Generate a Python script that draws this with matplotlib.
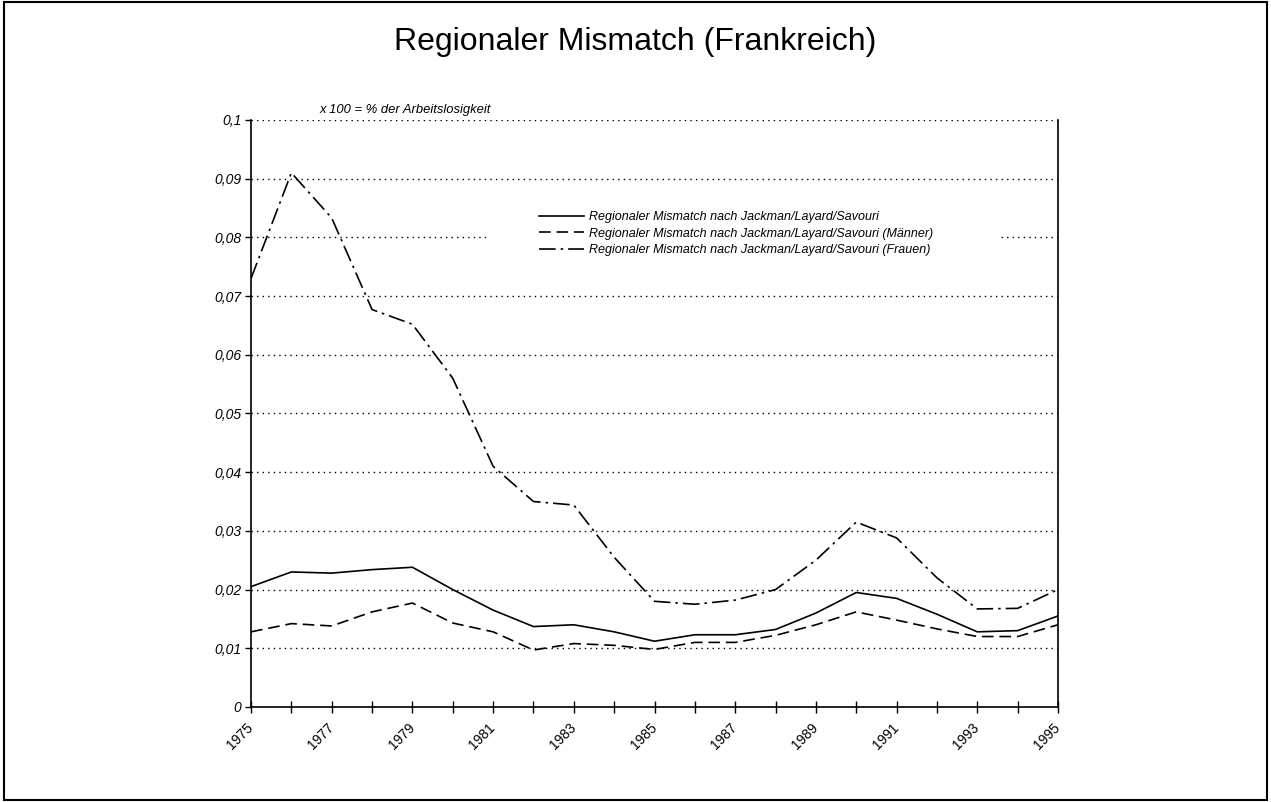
import matplotlib.pyplot as plt
from matplotlib.patches import Rectangle
from matplotlib.ticker import FuncFormatter, MultipleLocator
from matplotlib.transforms import ScaledTranslation

plt.rcParams['font.family'] = ['Liberation Sans', 'DejaVu Sans']

years = list(range(1975, 1996))

# Regionaler Mismatch, gesamt / Maenner / Frauen
total = [0.0205, 0.0230, 0.0228, 0.0234, 0.0238, 0.0200, 0.0165, 0.0137, 0.0140, 0.0128,
         0.0112, 0.0123, 0.0123, 0.0132, 0.0160, 0.0195, 0.0185, 0.0158, 0.0128, 0.0130, 0.0155]
men = [0.0128, 0.0142, 0.0138, 0.0162, 0.0177, 0.0143, 0.0128, 0.0097, 0.0108, 0.0105,
       0.0098, 0.0110, 0.0110, 0.0122, 0.0140, 0.0162, 0.0148, 0.0133, 0.0120, 0.0120, 0.0140]
women = [0.0730, 0.0910, 0.0833, 0.0677, 0.0652, 0.0560, 0.0410, 0.0350, 0.0344, 0.0255,
         0.0180, 0.0175, 0.0182, 0.0200, 0.0250, 0.0315, 0.0288, 0.0220, 0.0167, 0.0168, 0.0200]

labels = ["Regionaler Mismatch nach Jackman/Layard/Savouri",
          "Regionaler Mismatch nach Jackman/Layard/Savouri (Männer)",
          "Regionaler Mismatch nach Jackman/Layard/Savouri (Frauen)"]

fig = plt.figure(figsize=(12.71, 8.02), dpi=100)
ax = fig.add_axes([0.1975, 0.1185, 0.6349, 0.7319])

# outer frame around the whole chart
fig.patches.append(Rectangle((0.003, 0.002), 0.994, 0.995, transform=fig.transFigure,
                             fill=False, edgecolor='black', lw=1.5))

ax.plot(years, total, color='black', lw=1.2, ls='-', label=labels[0])
ax.plot(years, men, color='black', lw=1.2, ls=(0, (7, 3.5)), label=labels[1])
ax.plot(years, women, color='black', lw=1.2, ls=(0, (10, 3, 1.5, 3)), label=labels[2])

ax.set_xlim(1975, 1995)
ax.set_ylim(0, 0.1)
ax.yaxis.set_major_locator(MultipleLocator(0.01))
ax.grid(axis='y', color='black', ls=(0, (1, 3)), lw=1.0)
ax.set_axisbelow(True)

# white legend area that interrupts the 0,08 gridline
ax.add_patch(Rectangle((0.296, 0.753), 0.632, 0.10, transform=ax.transAxes,
                       facecolor='white', edgecolor='none', zorder=1.5))


def fmt(v, pos):
    if abs(v) < 1e-9:
        return "0"
    return ("%.2f" % v).rstrip('0').replace('.', ',')


ax.yaxis.set_major_formatter(FuncFormatter(fmt))
ax.tick_params(axis='y', labelsize=10, length=4, width=1, direction='out', pad=3)
ax.tick_params(axis='x', length=8, width=1, direction='inout', labelsize=10, pad=6)
for lab in ax.get_yticklabels():
    lab.set_fontstyle('italic')

ax.set_xticks(years)
ax.set_xticklabels([str(y) if (y - 1975) % 2 == 0 else "" for y in years],
                   rotation=45, ha='right', va='top', rotation_mode='anchor')
shift = ScaledTranslation(-5 / 100, 0, fig.dpi_scale_trans)
for lab in ax.get_xticklabels():
    lab.set_transform(lab.get_transform() + shift)

ax.spines['top'].set_visible(False)
for s in ['left', 'bottom', 'right']:
    ax.spines[s].set_linewidth(1.2)

leg = ax.legend(loc='upper left', bbox_to_anchor=(0.357, 0.845), frameon=False, fontsize=9,
                handlelength=3.6, handletextpad=0.4, labelspacing=0.38, borderpad=0,
                borderaxespad=0)
for t in leg.get_texts():
    t.set_fontstyle('italic')

ax.text(0.085, 1.017, "x 100 = % der Arbeitslosigkeit", transform=ax.transAxes,
        fontsize=9.4, style='italic', ha='left', va='center')

fig.text(0.5, 0.948, "Regionaler Mismatch (Frankreich)", ha='center', va='center', fontsize=23)

fig.savefig('out.png', dpi=100)
